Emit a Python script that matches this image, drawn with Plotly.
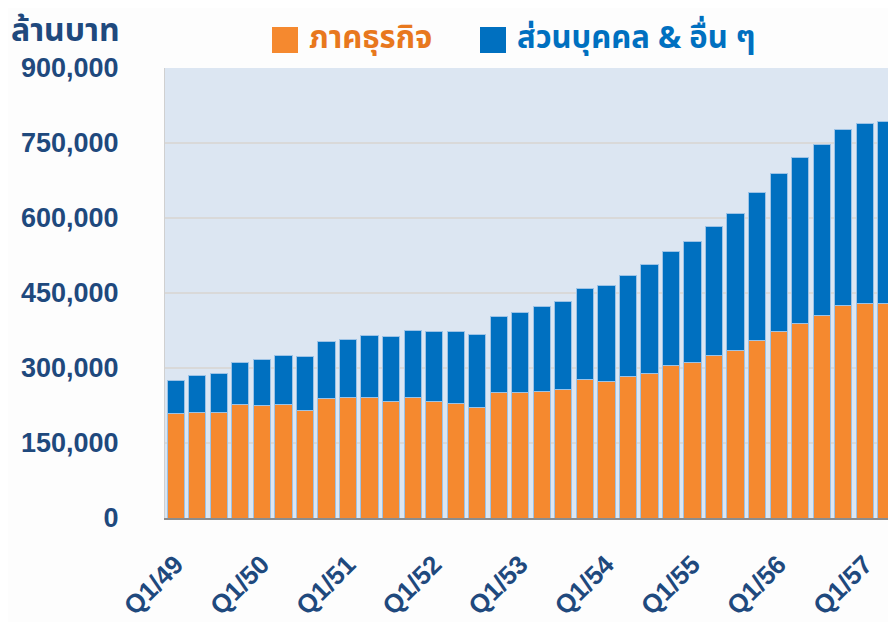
import plotly.graph_objects as go

quarters = [f"Q{q}/{y}" for y in range(49, 58) for q in range(1, 5)][:34]

business = [208600, 210700, 212000, 228000, 226000, 226700, 216000, 240000,
            240700, 242000, 234000, 242000, 234000, 230000, 221300, 251300,
            250300, 254000, 257300, 276700, 273300, 284000, 289300, 306000,
            311300, 325300, 334700, 356000, 374000, 390000, 404700, 426000,
            430000, 430000]
total = [276000, 284700, 290000, 312000, 318000, 325300, 323300, 353300,
         356700, 365300, 363300, 376000, 373300, 374000, 368000, 404000,
         411000, 422700, 433300, 459300, 466000, 486000, 507300, 534000,
         553300, 582700, 610000, 650700, 690000, 721300, 747300, 778000,
         788700, 794000]
personal = [t - b for t, b in zip(total, business)]

tick_vals = [quarters[i] for i in range(0, 34, 4)]
y_ticks = [0, 150000, 300000, 450000, 600000, 750000, 900000]

name_business = "ภาคธุรกิจ"
name_personal = "ส่วนบุคคล & อื่น ๆ"
unit_label = "ล้านบาท"

ORANGE = "#F5892F"
BLUE = "#0070C0"
NAVY = "#1F497D"
THAI_FONT = "Noto Sans Thai, Tahoma, Loma, Garuda, sans-serif"

OFF = 8  # page body margin
L, T, W, H = 165, 68, 731, 450  # plot area in page pixels
FW, FH = 896 - OFF, 622 - OFF

fig = go.Figure()
fig.add_trace(go.Bar(x=quarters, y=business, name=name_business,
                     marker=dict(color=ORANGE, line=dict(color="#9DC3E6", width=1))))
fig.add_trace(go.Bar(x=quarters, y=personal, name=name_personal,
                     marker=dict(color=BLUE, line=dict(color="#9DC3E6", width=1))))

fig.update_layout(
    width=FW, height=FH,
    barmode="stack", bargap=0.2,
    showlegend=False,
    paper_bgcolor="#FDFDFD", plot_bgcolor="#DCE6F2",
    margin=dict(l=L - OFF, r=FW - (L - OFF) - W, t=T - OFF,
                b=FH - (T - OFF) - H, autoexpand=False),
    font=dict(family="Arial, Liberation Sans, sans-serif", color=NAVY),
)
fig.update_xaxes(
    type="category", range=[-0.5, 33.45], automargin=False,
    tickmode="array", tickvals=tick_vals, ticktext=tick_vals,
    tickangle=-45,
    tickfont=dict(size=26, color=NAVY, family="Liberation Sans, Arial", weight="bold"),
    showgrid=False, showline=True, linecolor="#8C8C8C", linewidth=2,
    ticks="", ticklabelstandoff=19,
)
fig.update_yaxes(
    range=[0, 900000], tickvals=y_ticks, tickformat=",d", automargin=False,
    tickfont=dict(size=27, color=NAVY, family="Liberation Sans, Arial", weight="bold"),
    showgrid=True, gridcolor="#D9D9D9", gridwidth=2,
    showline=True, linecolor="#D0D0D0", linewidth=1,
    zeroline=False, ticks="", ticklabelstandoff=40,
)

def px_x(px):
    return (px - L) / W

def px_y(py):
    return (T + H - py) / H

# unit label
fig.add_annotation(xref="paper", yref="paper", x=px_x(9), y=px_y(5),
                   xanchor="left", yanchor="top", showarrow=False,
                   text=f"<b>{unit_label}</b>",
                   font=dict(size=32, color=NAVY, family=THAI_FONT))

# legend (manual)
legend_items = [(name_business, ORANGE, "#E8781E", 272), (name_personal, BLUE, BLUE, 480)]
for label, fill, tcolor, px in legend_items:
    fig.add_shape(type="rect", xref="paper", yref="paper",
                  x0=px_x(px), x1=px_x(px + 26), y0=px_y(53), y1=px_y(27),
                  fillcolor=fill, line=dict(width=0))
    fig.add_annotation(xref="paper", yref="paper", x=px_x(px + 35),
                       y=px_y(38), xanchor="left", yanchor="middle",
                       showarrow=False, text=f"<b>{label}</b>",
                       font=dict(size=31, color=tcolor, family=THAI_FONT))

fig.write_html("out.html")
